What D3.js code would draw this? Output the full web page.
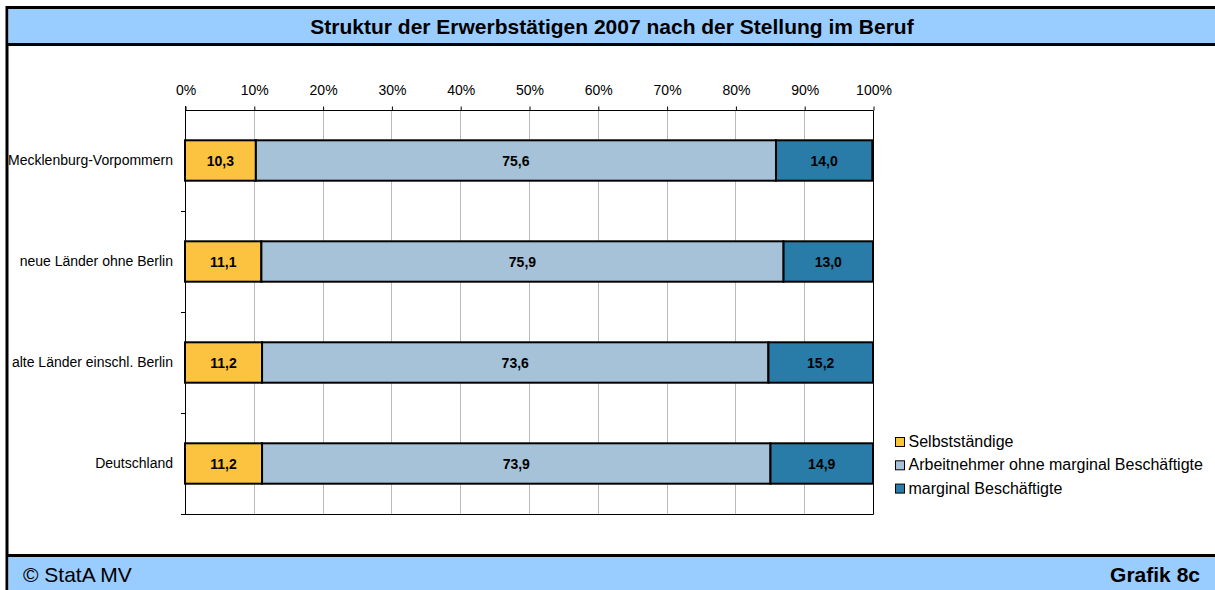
<!DOCTYPE html>
<html>
<head>
<meta charset="utf-8">
<script src="https://cdn.jsdelivr.net/npm/d3@7"></script>
<style>
  html, body { margin: 0; padding: 0; background: #fff; overflow: hidden; }
  svg { display: block; font-family: "Liberation Sans", Arial, sans-serif; }
</style>
</head>
<body>
<svg id="chart" width="1215" height="590"></svg>
<script>
const title = "Struktur der Erwerbstätigen 2007 nach der Stellung im Beruf";
const categories = ["Mecklenburg-Vorpommern", "neue Länder ohne Berlin", "alte Länder einschl. Berlin", "Deutschland"];
const seriesNames = ["Selbstständige", "Arbeitnehmer ohne marginal Beschäftigte", "marginal Beschäftigte"];
const selbststaendige = [10.3, 11.1, 11.2, 11.2];
const arbeitnehmer = [75.6, 75.9, 73.6, 73.9];
const marginal = [14.0, 13.0, 15.2, 14.9];
const xTicks = [0, 10, 20, 30, 40, 50, 60, 70, 80, 90, 100];
const colors = ["#FBC33F", "#A5C2D8", "#297CA8"];
const footerLeft = "© StatA MV";
const footerRight = "Grafik 8c";

const svg = d3.select("#chart");
const W = 1215, H = 590;

// frame
svg.append("rect").attr("x", 7).attr("y", 7.5).attr("width", W + 10).attr("height", H).attr("fill", "#fff").attr("stroke", "#000").attr("stroke-width", 3);
svg.append("rect").attr("x", 8.5).attr("y", 9).attr("width", W).attr("height", 35).attr("fill", "#99CCFF");
svg.append("line").attr("x1", 7).attr("x2", W).attr("y1", 44.5).attr("y2", 44.5).attr("stroke", "#000").attr("stroke-width", 3);
svg.append("rect").attr("x", 8.5).attr("y", 556).attr("width", W).attr("height", 40).attr("fill", "#99CCFF");
svg.append("line").attr("x1", 7).attr("x2", W).attr("y1", 555.5).attr("y2", 555.5).attr("stroke", "#000").attr("stroke-width", 3);

svg.append("text").attr("x", 612).attr("y", 34).attr("text-anchor", "middle")
  .attr("font-size", 21).attr("font-weight", "bold").text(title);
svg.append("text").attr("x", 23).attr("y", 582).attr("font-size", 21).text(footerLeft);
svg.append("text").attr("x", 1200).attr("y", 582).attr("text-anchor", "end")
  .attr("font-size", 21).attr("font-weight", "bold").text(footerRight);

const pLeft = 185, pRight = 873, pTop = 110, pBottom = 514;
const x = d3.scaleLinear().domain([0, 100]).range([pLeft, pRight]);
const y = d3.scaleBand().domain(categories).range([pTop, pBottom]).paddingInner(0.6).paddingOuter(0.3);

const g = svg.append("g");

// gridlines
g.selectAll(".grid").data(xTicks.slice(1, -1)).join("line")
  .attr("x1", d => Math.round(x(d)) + 0.5).attr("x2", d => Math.round(x(d)) + 0.5)
  .attr("y1", pTop).attr("y2", pBottom).attr("stroke", "#bbbbbb").attr("stroke-width", 1);

// plot border (top/right/bottom)
g.append("path")
  .attr("d", `M${pLeft},${pTop + 0.5}H${pRight + 0.5}V${pBottom + 0.5}H${pLeft}`)
  .attr("fill", "none").attr("stroke", "#000").attr("stroke-width", 1);

// top axis
const xAxis = d3.axisTop(x).tickValues(xTicks).tickFormat(d => d + "%").tickSize(4).tickPadding(12);
const xg = g.append("g").attr("transform", `translate(0.5,${pTop + 0.5})`).call(xAxis);
xg.select(".domain").remove();
xg.selectAll("text").attr("font-size", 14).attr("font-family", "Liberation Sans, Arial, sans-serif").attr("fill", "#000");

// left axis with boundary ticks
const boundaries = d3.range(categories.length + 1).map(i => pTop + i * (pBottom - pTop) / categories.length);
g.append("line").attr("x1", pLeft + 0.5).attr("x2", pLeft + 0.5).attr("y1", pTop - 4).attr("y2", pBottom + 0.5).attr("stroke", "#000");
g.selectAll(".ytick").data(boundaries.slice(1)).join("line")
  .attr("x1", pLeft - 4).attr("x2", pLeft).attr("y1", d => Math.round(d) + 0.5).attr("y2", d => Math.round(d) + 0.5).attr("stroke", "#000");

const yAxis = d3.axisLeft(y).tickSize(0).tickPadding(12);
const yg = g.append("g").attr("transform", `translate(${pLeft},0)`).call(yAxis);
yg.select(".domain").remove();
yg.selectAll("text").attr("font-size", 14).attr("font-family", "Liberation Sans, Arial, sans-serif").attr("fill", "#000").attr("dy", "0.3em");

// stacked bars
const rows = categories.map((c, i) => ({ cat: c, s0: selbststaendige[i], s1: arbeitnehmer[i], s2: marginal[i] }));
const stack = d3.stack().keys(["s0", "s1", "s2"]);
const stacked = stack(rows);

stacked.forEach((layer, k) => {
  const lg = g.append("g");
  lg.selectAll("rect").data(layer).join("rect")
    .attr("x", d => x(d[0]))
    .attr("y", d => y(d.data.cat))
    .attr("width", d => x(d[1]) - x(d[0]))
    .attr("height", y.bandwidth())
    .attr("fill", colors[k]).attr("stroke", "#000").attr("stroke-width", 2);
  lg.selectAll("text").data(layer).join("text")
    .attr("x", d => (x(d[0]) + x(d[1])) / 2)
    .attr("y", d => y(d.data.cat) + y.bandwidth() / 2)
    .attr("dy", "0.36em").attr("text-anchor", "middle")
    .attr("font-size", 14).attr("font-weight", "bold")
    .text(d => d3.format(".1f")(d[1] - d[0]).replace(".", ","));
});

// legend
const legend = svg.append("g").attr("transform", "translate(895,437)");
seriesNames.forEach((n, i) => {
  const row = legend.append("g").attr("transform", `translate(0,${i * 23.3})`);
  row.append("rect").attr("x", 0.5).attr("y", 0.5).attr("width", 9).attr("height", 9)
    .attr("fill", colors[i]).attr("stroke", "#000").attr("stroke-width", 1);
  row.append("text").attr("x", 13.5).attr("y", 10).attr("font-size", 16).text(n);
});
</script>
</body>
</html>
